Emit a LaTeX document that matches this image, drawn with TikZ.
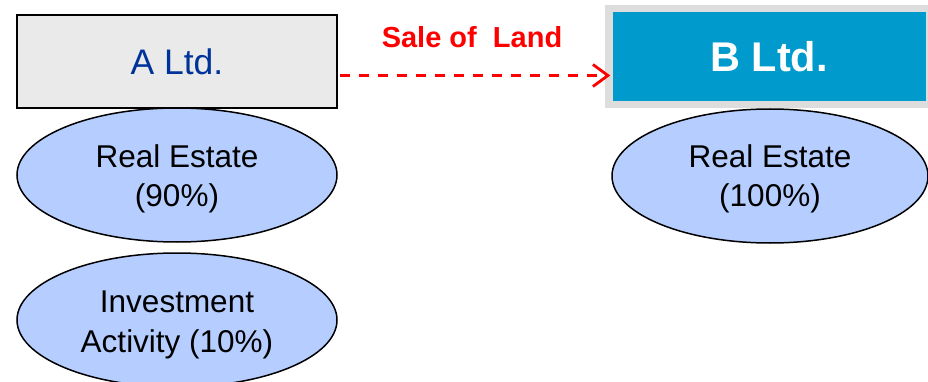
\documentclass[tikz,border=0pt]{standalone}
\usepackage{fontspec}
\setmainfont{Liberation Sans}
\usetikzlibrary{shapes.geometric,arrows.meta,calc}
\definecolor{boxgray}{RGB}{234,234,234}
\definecolor{ellblue}{RGB}{181,206,255}
\definecolor{bblue}{RGB}{0,154,205}
\definecolor{bframe}{RGB}{221,221,221}
\definecolor{adark}{RGB}{0,51,153}
\definecolor{salered}{RGB}{255,0,0}
\tikzset{
  ellbox/.style={ellipse,draw=black,line width=1.5pt,fill=ellblue,minimum width=320pt,minimum height=134pt,inner sep=0pt},
  elltext/.style={align=center,inner sep=0pt,font=\fontsize{31.5}{39}\selectfont},
  abox/.style={rectangle,draw=black,line width=1.5pt,fill=boxgray,minimum width=320pt,minimum height=93pt,inner sep=0pt,text=adark,font=\fontsize{35.5}{40}\selectfont},
  bframebox/.style={rectangle,fill=bframe,minimum width=323pt,minimum height=103pt,inner sep=0pt},
  binbox/.style={rectangle,fill=bblue,minimum width=313pt,minimum height=89pt,inner sep=0pt,text=white,font=\fontsize{41.5}{46}\selectfont\bfseries},
  salearrow/.style={draw=salered,line width=2.8pt,dash pattern=on 10pt off 9pt,-{Straight Barb[length=15pt,width=22pt,line width=2.8pt]}},
}
\begin{document}
\begin{tikzpicture}[x=1pt,y=-1pt]
\useasboundingbox (0,0) rectangle (928,382);
\begin{scope}
\clip (0,0) rectangle (928,382);
\node[abox] (A) at (177,61.5) {A Ltd.};
\node[bframebox] (Bf) at (766.5,56.5) {};
\node[binbox] (B) at (769,56.5) {B Ltd.};
\node[ellbox,label={[elltext,yshift=-4pt]center:{Real Estate\\(90\%)}}] (re1) at (177,175) {};
\node[ellbox,label={[elltext,yshift=-5pt,font=\fontsize{31.5}{40}\selectfont]center:{Investment\\Activity (10\%)}}] (inv) at (177,320) {};
\node[ellbox,minimum width=316pt,label={[elltext,yshift=-3pt]center:{Real Estate\\(100\%)}}] (re2) at (770,176) {};
\node[text=salered,font=\fontsize{29}{34}\selectfont\bfseries] (sale) at (472,37) {Sale of\ \ Land};
\draw[salearrow] ([yshift=-14pt,xshift=2pt]A.east) -- ([yshift=-14pt,xshift=-2pt]A.east -| B.west);
\end{scope}
\end{tikzpicture}
\end{document}
